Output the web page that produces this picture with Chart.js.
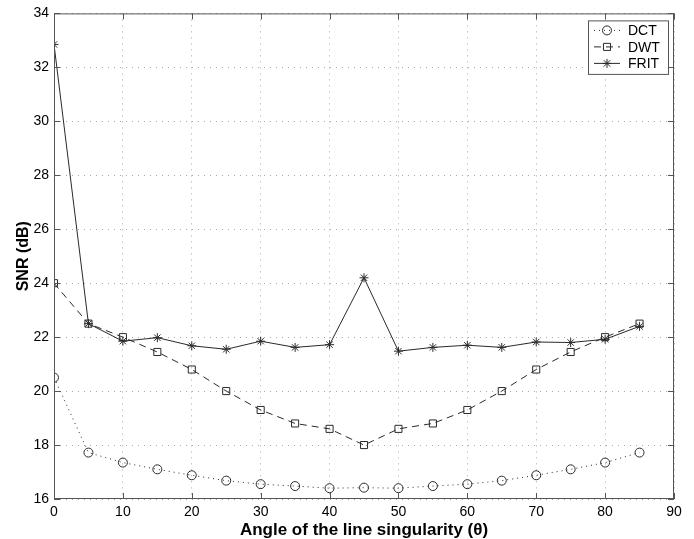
<!DOCTYPE html>
<html>
<head>
<meta charset="utf-8">
<script src="https://cdn.jsdelivr.net/npm/chart.js@4.4.1/dist/chart.umd.min.js"></script>
<style>
  html, body { margin: 0; padding: 0; background: #fff; }
  #wrap { width: 694px; height: 539px; }
</style>
</head>
<body>
<div id="wrap"><canvas id="snrChart" width="694" height="539"></canvas></div>
<script>
// Data
const angles = [0, 5, 10, 15, 20, 25, 30, 35, 40, 45, 50, 55, 60, 65, 70, 75, 80, 85];
const dctSnr = [20.5, 17.72, 17.35, 17.1, 16.88, 16.68, 16.55, 16.48, 16.4, 16.42, 16.4, 16.48, 16.55, 16.68, 16.88, 17.1, 17.35, 17.72];
const dwtSnr = [24.0, 22.5, 22.0, 21.45, 20.8, 20.0, 19.3, 18.8, 18.6, 18.0, 18.6, 18.8, 19.3, 20.0, 20.8, 21.45, 22.0, 22.5];
const fritSnr = [32.85, 22.5, 21.85, 21.98, 21.68, 21.55, 21.85, 21.62, 21.72, 24.2, 21.48, 21.62, 21.7, 21.62, 21.82, 21.8, 21.92, 22.4];
const seriesNames = ['DCT', 'DWT', 'FRIT'];
const xRange = [0, 90];
const yRange = [16, 34];
const xStep = 10;
const yStep = 2;

const ink = '#2a2a2a';
const font = "'Liberation Sans', Arial, Helvetica, sans-serif";

function toPoints(values) {
    return angles.map((a, i) => ({ x: a, y: values[i] }));
}

// frame box + inward tick marks like the original
const framePlugin = {
    id: 'frame',
    afterDraw(chart) {
        const { ctx, chartArea: a, scales } = chart;
        ctx.save();
        ctx.strokeStyle = '#555';
        ctx.lineWidth = 1;
        ctx.strokeRect(a.left + 0.5, a.top + 0.5, a.right - a.left - 1, a.bottom - a.top - 1);
        ctx.beginPath();
        scales.x.ticks.forEach(t => {
            const px = Math.round(scales.x.getPixelForValue(t.value)) + 0.5;
            ctx.moveTo(px, a.bottom); ctx.lineTo(px, a.bottom - 6);
            ctx.moveTo(px, a.top); ctx.lineTo(px, a.top + 6);
        });
        scales.y.ticks.forEach(t => {
            const py = Math.round(scales.y.getPixelForValue(t.value)) + 0.5;
            ctx.moveTo(a.left, py); ctx.lineTo(a.left + 6, py);
            ctx.moveTo(a.right, py); ctx.lineTo(a.right - 6, py);
        });
        ctx.stroke();
        ctx.restore();
    }
};

// legend box inside the plot, top right
const boxLegendPlugin = {
    id: 'boxLegend',
    afterDraw(chart) {
        const { ctx, chartArea: a } = chart;
        const boxW = 80, rowH = 16.5;
        const sets = chart.data.datasets;
        const boxH = sets.length * rowH + 4;
        const x0 = a.right - 6 - boxW, y0 = a.top + 7;
        ctx.save();
        ctx.fillStyle = '#fff';
        ctx.fillRect(x0, y0, boxW, boxH);
        ctx.strokeStyle = '#555';
        ctx.lineWidth = 1;
        ctx.strokeRect(x0 + 0.5, y0 + 0.5, boxW, boxH);
        sets.forEach((ds, i) => {
            const cy = y0 + 10 + i * rowH;
            ctx.strokeStyle = ds.borderColor;
            ctx.lineWidth = 1;
            ctx.setLineDash(ds.borderDash || []);
            ctx.beginPath();
            ctx.moveTo(x0 + 6, cy); ctx.lineTo(x0 + 32, cy);
            ctx.stroke();
            ctx.setLineDash([]);
            ctx.fillStyle = 'rgba(0,0,0,0)';
            Chart.helpers.drawPoint(ctx, {
                pointStyle: ds.pointStyle, radius: ds.pointRadius, rotation: 0, borderWidth: 1
            }, x0 + 19, cy);
            ctx.fillStyle = '#000';
            ctx.font = '14px ' + font;
            ctx.textBaseline = 'middle';
            ctx.fillText(ds.label, x0 + 40, cy + 1);
        });
        ctx.restore();
    }
};

const ctx = document.getElementById('snrChart').getContext('2d');

const snrChart = new Chart(ctx, {
    type: 'line',
    data: {
        datasets: [{
            label: seriesNames[0],
            data: toPoints(dctSnr),
            borderColor: ink,
            borderWidth: 1,
            borderDash: [1, 4],
            pointStyle: 'circle',
            pointRadius: 4.5,
            pointBorderColor: ink,
            pointBackgroundColor: 'rgba(0,0,0,0)',
            pointBorderWidth: 1
        }, {
            label: seriesNames[1],
            data: toPoints(dwtSnr),
            borderColor: ink,
            borderWidth: 1,
            borderDash: [7, 5],
            pointStyle: 'rect',
            pointRadius: 5,
            pointBorderColor: ink,
            pointBackgroundColor: 'rgba(0,0,0,0)',
            pointBorderWidth: 1
        }, {
            label: seriesNames[2],
            data: toPoints(fritSnr),
            borderColor: ink,
            borderWidth: 1,
            pointStyle: 'star',
            pointRadius: 4.5,
            pointBorderColor: ink,
            pointBackgroundColor: 'rgba(0,0,0,0)',
            pointBorderWidth: 1
        }]
    },
    options: {
        responsive: false,
        animation: false,
        events: [],
        layout: { padding: { left: 0, right: 20, top: 10, bottom: 0 } },
        plugins: {
            legend: { display: false },
            tooltip: { enabled: false }
        },
        scales: {
            x: {
                type: 'linear',
                min: xRange[0],
                max: xRange[1],
                afterFit: s => { s.height = 40; },
                ticks: { stepSize: xStep, color: '#000', padding: 5, font: { family: font, size: 14 } },
                grid: { color: '#a8a8a8', drawTicks: false },
                border: { display: false, dash: [1, 5] },
                title: {
                    display: true,
                    text: 'Angle of the line singularity (\u03b8)',
                    color: '#000',
                    padding: { top: 0, bottom: 0 },
                    font: { family: font, size: 17, weight: 'bold', lineHeight: 1 }
                }
            },
            y: {
                min: yRange[0],
                max: yRange[1],
                afterFit: s => { s.width = 54; },
                ticks: { stepSize: yStep, color: '#000', padding: 5, font: { family: font, size: 14 } },
                grid: { color: '#a8a8a8', drawTicks: false },
                border: { display: false, dash: [1, 5] },
                title: {
                    display: true,
                    text: 'SNR (dB)',
                    color: '#000',
                    padding: { top: 14, bottom: 0 },
                    font: { family: font, size: 16, weight: 'bold' }
                }
            }
        }
    },
    plugins: [framePlugin, boxLegendPlugin]
});
</script>
</body>
</html>
